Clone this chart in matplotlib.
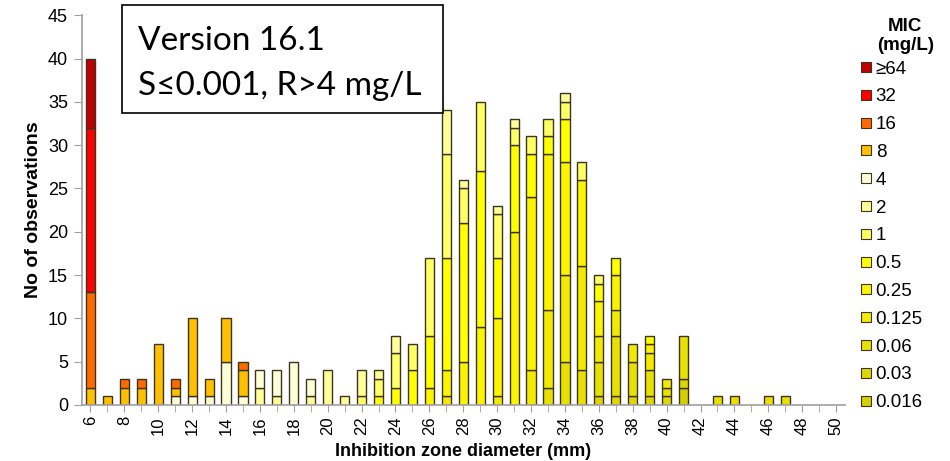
#!/usr/bin/env python

# Stacked histogram of inhibition zone diameters coloured by MIC.

import matplotlib
matplotlib.use("Agg")
import matplotlib.pyplot as plt
from matplotlib.lines import Line2D
from matplotlib.patches import Rectangle

plt.rcParams["font.family"] = ["Liberation Sans", "DejaVu Sans"]

diameters = list(range(6, 51))

# counts per diameter (6..50), one list per MIC class
mic_0016 = [0,0,0,0,0, 0,0,0,0,0, 0,0,0,0,0, 0,0,0,0,0, 0,0,0,0,0, 0,0,0,0,0, 0,0,0,0,0, 2,0,0,0,0, 0,0,0,0,0]
mic_003  = [0,0,0,0,0, 0,0,0,0,0, 0,0,0,0,0, 0,0,0,0,0, 0,0,0,0,0, 0,0,0,0,0, 1,1,1,1,1, 1,0,0,0,0, 0,0,0,0,0]
mic_006  = [0,0,0,0,0, 0,0,0,0,0, 0,0,0,0,0, 0,0,0,0,0, 0,0,0,0,0, 0,0,2,5,4, 4,7,4,3,1, 5,0,1,1,0, 1,1,0,0,0]
mic_0125 = [0,0,0,0,0, 0,0,0,0,0, 0,0,0,0,0, 0,0,0,0,0, 0,1,0,0,1, 0,4,9,10,12, 3,3,2,2,1, 0,0,0,0,0, 0,0,0,0,0]
mic_025  = [0,0,0,0,0, 0,0,0,0,0, 0,0,0,0,0, 0,0,0,0,0, 2,3,5,9,9, 20,20,18,13,10, 4,4,0,1,0, 0,0,0,0,0, 0,0,0,0,0]
mic_05   = [0,0,0,0,0, 0,0,0,0,0, 0,0,0,0,0, 0,0,1,2,4, 6,13,16,18,7, 10,5,2,5,0, 2,2,0,1,0, 0,0,0,0,0, 0,0,0,0,0]
mic_1    = [0,0,0,0,0, 0,0,0,0,0, 0,0,0,0,0, 0,1,2,4,3, 9,12,4,8,5, 2,2,2,2,2, 1,0,0,0,0, 0,0,0,0,0, 0,0,0,0,0]
mic_2    = [0,0,0,0,0, 0,0,0,0,0, 2,1,0,1,4, 1,3,1,2,0, 0,5,1,0,1, 1,0,0,1,0, 0,0,0,0,0, 0,0,0,0,0, 0,0,0,0,0]
mic_4    = [0,0,0,0,0, 1,1,1,5,1, 2,3,5,2,0, 0,0,0,0,0, 0,0,0,0,0, 0,0,0,0,0, 0,0,0,0,0, 0,0,0,0,0, 0,0,0,0,0]
mic_8    = [2,1,2,2,7, 1,9,2,5,3, 0,0,0,0,0, 0,0,0,0,0, 0,0,0,0,0, 0,0,0,0,0, 0,0,0,0,0, 0,0,0,0,0, 0,0,0,0,0]
mic_16   = [11,0,1,1,0, 1,0,0,0,1, 0,0,0,0,0, 0,0,0,0,0, 0,0,0,0,0, 0,0,0,0,0, 0,0,0,0,0, 0,0,0,0,0, 0,0,0,0,0]
mic_32   = [19,0,0,0,0, 0,0,0,0,0, 0,0,0,0,0, 0,0,0,0,0, 0,0,0,0,0, 0,0,0,0,0, 0,0,0,0,0, 0,0,0,0,0, 0,0,0,0,0]
mic_64   = [8,0,0,0,0, 0,0,0,0,0, 0,0,0,0,0, 0,0,0,0,0, 0,0,0,0,0, 0,0,0,0,0, 0,0,0,0,0, 0,0,0,0,0, 0,0,0,0,0]

# bottom to top
mic_labels = ["0.016", "0.03", "0.06", "0.125", "0.25", "0.5", "1", "2", "4", "8", "16", "32", "\u226564"]
mic_series = [mic_0016, mic_003, mic_006, mic_0125, mic_025, mic_05, mic_1, mic_2, mic_4, mic_8, mic_16, mic_32, mic_64]
mic_colors = ["#d6cf00", "#dfd800", "#e8e000", "#f2ea00", "#fbf400", "#ffff00", "#ffff66",
              "#ffff99", "#ffffd8", "#ffc000", "#ff6a00", "#ff0000", "#c00000"]
edge = "#3a3420"

fig = plt.figure(figsize=(9.5, 4.61), dpi=100)
ax = fig.add_axes([0.0863, 0.1215, 0.8027, 0.8455])

bottom = [0] * len(diameters)
for vals, col in zip(mic_series, mic_colors):
  ax.bar(diameters, vals, width=0.54, bottom=bottom, color=col,
         edgecolor=[edge if v > 0 else "none" for v in vals], linewidth=1.0)
  bottom = [b + v for b, v in zip(bottom, vals)]

ax.set_xlim(5.5, 50.5)
ax.set_ylim(0, 45)
ax.set_yticks(range(0, 46, 5))
ax.set_xticks(range(6, 51, 2))
ax.set_xticks(range(6, 51, 1), minor=True)
ax.tick_params(axis="x", which="both", rotation=90, length=5, color="#a0a0a0", labelsize=12, pad=3)
ax.tick_params(axis="y", length=6, color="#a0a0a0", labelsize=13, pad=4)
for s in ["top", "right"]:
  ax.spines[s].set_visible(False)
for s in ["left", "bottom"]:
  ax.spines[s].set_color("#a0a0a0")
  ax.spines[s].set_linewidth(1.2)

ax.set_xlabel("Inhibition zone diameter (mm)", fontsize=13, fontweight="bold", labelpad=6)
ax.set_ylabel("No of observations", fontsize=14, fontweight="bold", labelpad=4)

# legend on the right, top entry is the highest MIC
handles = [Line2D([], [], marker="s", linestyle="none", markersize=7,
                  markerfacecolor=c, markeredgecolor=edge, markeredgewidth=0.8)
           for c in mic_colors[::-1]]
leg = fig.legend(handles, mic_labels[::-1], loc="upper left", bbox_to_anchor=(0.905, 0.869),
                 frameon=False, fontsize=13.5, handlelength=0.65, handletextpad=0.2,
                 labelspacing=0.57, borderaxespad=0, borderpad=0)
fig.text(0.953, 0.96, "MIC\n(mg/L)", ha="center", va="top", fontsize=13.5,
         fontweight="bold", linespacing=1.1)

# version box
fig.patches.append(Rectangle((0.1284, 0.755), 0.338, 0.234, transform=fig.transFigure,
                             facecolor="white", edgecolor="black", linewidth=1.2, zorder=5))
fig.text(0.1455, 0.8915, "Version 16.1", ha="left", va="baseline",
         fontsize=24, family="Lato", zorder=6)
fig.text(0.1455, 0.794, "S\u22640.001, R>4 mg/L", ha="left", va="baseline",
         fontsize=24, family=["Lato", "DejaVu Sans"], zorder=6)

fig.savefig("out.png")
